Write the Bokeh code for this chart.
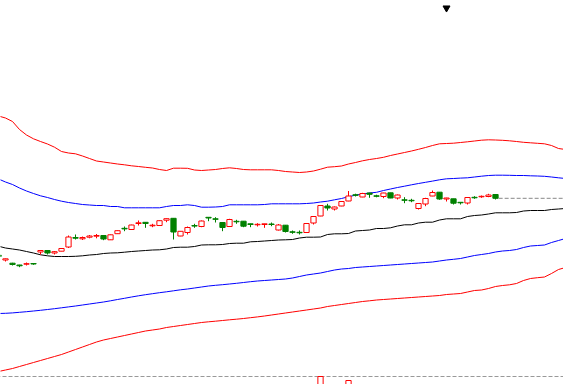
from bokeh.plotting import figure
from bokeh.models import Range1d, ColumnDataSource
from bokeh.embed import file_html
from bokeh.resources import INLINE

# ---- candle data (price units) ----
opens = [14.55, 14.05, 13.73, 13.55, 13.63, 13.70, 14.85, 15.00, 14.75, 14.93,
         15.35, 16.30, 16.17, 16.33, 16.43, 16.50, 16.07, 16.68, 17.22, 17.10,
         17.70, 17.82, 17.47, 17.50, 18.03, 18.22, 16.45, 16.80, 17.50, 17.40,
         18.32, 18.17, 17.80, 17.40, 17.92, 17.93, 17.67, 17.57, 17.60, 17.65,
         17.05, 17.53, 16.87, 16.82, 16.80, 17.75, 18.45, 19.45, 19.15, 19.45,
         19.95, 20.57, 20.35, 20.75, 20.47, 20.40, 20.77, 20.25, 20.07, 20.02,
         19.20, 19.65, 20.45, 20.83, 20.15, 20.17, 19.82, 19.75, 20.32, 20.37,
         20.40, 20.60]
closes = [14.40, 14.17, 13.60, 13.47, 13.68, 13.65, 15.00, 14.75, 14.88, 15.20,
          16.35, 16.23, 16.30, 16.45, 16.50, 16.15, 16.57, 16.98, 17.16, 17.55,
          17.77, 17.70, 17.53, 17.98, 18.18, 16.85, 16.92, 17.30, 17.44, 17.95,
          18.25, 18.12, 17.30, 18.10, 17.87, 17.43, 17.60, 17.62, 17.67, 17.60,
          17.55, 16.90, 16.82, 16.77, 17.70, 18.40, 19.50, 19.25, 19.35, 19.90,
          20.45, 20.52, 20.70, 20.62, 20.42, 20.75, 20.25, 20.55, 20.02, 19.97,
          19.70, 20.20, 20.80, 20.15, 20.25, 19.73, 19.77, 20.30, 20.27, 20.42,
          20.55, 20.22]
highs = [14.60, 14.20, 13.77, 13.57, 13.80, 13.73, 15.00, 15.00, 14.95, 15.23,
         16.50, 16.60, 16.40, 16.55, 16.65, 16.53, 16.60, 17.00, 17.40, 17.58,
         18.00, 17.83, 17.67, 18.00, 18.20, 18.23, 16.93, 17.40, 17.67, 18.00,
         18.33, 18.33, 17.80, 18.17, 18.07, 17.93, 17.67, 17.73, 17.67, 17.80,
         17.65, 17.55, 17.00, 17.00, 17.73, 18.43, 19.50, 19.67, 19.40, 19.90,
         20.95, 20.68, 20.77, 20.77, 20.58, 20.77, 20.77, 20.60, 20.33, 20.17,
         19.73, 20.27, 21.00, 20.83, 20.27, 20.17, 19.83, 20.33, 20.43, 20.50,
         20.67, 20.60]
lows = [14.35, 13.90, 13.50, 13.33, 13.50, 13.57, 14.60, 14.60, 14.60, 14.93,
        15.25, 16.10, 16.05, 16.22, 16.22, 16.03, 16.05, 16.65, 16.93, 17.07,
        17.50, 17.27, 17.33, 17.47, 17.83, 16.10, 16.43, 16.60, 17.27, 17.33,
        17.93, 17.80, 16.93, 17.35, 17.67, 17.33, 17.33, 17.40, 17.27, 17.43,
        17.00, 16.80, 16.67, 16.60, 16.77, 17.60, 18.43, 19.00, 19.00, 19.43,
        19.93, 20.40, 20.33, 20.27, 20.32, 20.23, 20.23, 20.10, 19.73, 19.83,
        19.10, 19.43, 20.43, 20.07, 19.90, 19.60, 19.60, 19.60, 20.17, 20.27,
        20.33, 20.10]

# ---- band lines (extend 10 periods past the last candle) ----
band_mid = [15.43, 15.25, 15.15, 15.05, 14.90, 14.75, 14.57, 14.47, 14.40, 14.40,
            14.40, 14.42, 14.47, 14.55, 14.60, 14.70, 14.75, 14.77, 14.83, 14.90,
            14.95, 15.00, 15.05, 15.07, 15.15, 15.30, 15.33, 15.33, 15.40, 15.55,
            15.57, 15.57, 15.60, 15.70, 15.73, 15.73, 15.87, 15.90, 15.95, 16.00,
            16.05, 16.07, 16.10, 16.25, 16.33, 16.33, 16.35, 16.60, 16.67, 16.67,
            16.70, 16.95, 17.00, 17.05, 17.20, 17.20, 17.27, 17.45, 17.57, 17.57,
            17.75, 17.83, 17.83, 18.05, 18.17, 18.17, 18.17, 18.40, 18.50, 18.55,
            18.65, 18.77, 18.77, 18.77, 18.80, 18.95, 19.00, 19.00, 19.00, 19.10,
            19.15, 19.20]
band_up1 = [22.15, 21.85, 21.60, 21.25, 20.95, 20.70, 20.47, 20.30, 20.10, 19.93,
            19.80, 19.70, 19.60, 19.55, 19.50, 19.50, 19.40, 19.40, 19.27, 19.27,
            19.27, 19.27, 19.27, 19.27, 19.40, 19.50, 19.50, 19.57, 19.50, 19.33,
            19.33, 19.35, 19.40, 19.57, 19.57, 19.57, 19.57, 19.57, 19.60, 19.67,
            19.67, 19.67, 19.67, 19.67, 19.70, 19.75, 19.85, 19.93, 20.07, 20.20,
            20.38, 20.53, 20.65, 20.75, 20.82, 21.00, 21.15, 21.30, 21.43, 21.57,
            21.70, 21.82, 21.94, 22.07, 22.17, 22.20, 22.24, 22.27, 22.35, 22.43,
            22.50, 22.53, 22.53, 22.52, 22.50, 22.50, 22.47, 22.45, 22.42, 22.35,
            22.27, 22.20]
band_up2 = [28.45, 28.25, 27.90, 27.10, 26.55, 26.17, 25.90, 25.65, 25.33, 24.90,
            24.75, 24.67, 24.45, 24.20, 23.95, 23.85, 23.75, 23.65, 23.57, 23.47,
            23.40, 23.32, 23.25, 23.10, 23.00, 23.23, 23.23, 23.22, 23.05, 23.00,
            23.05, 23.10, 23.20, 23.27, 23.20, 23.10, 23.07, 23.07, 23.07, 23.07,
            23.00, 22.90, 22.85, 22.80, 22.85, 22.95, 23.13, 23.33, 23.38, 23.45,
            23.65, 23.80, 23.97, 24.10, 24.20, 24.32, 24.50, 24.65, 24.80, 24.95,
            25.12, 25.30, 25.50, 25.67, 25.70, 25.73, 25.80, 25.87, 25.95, 26.03,
            26.07, 26.05, 26.02, 25.97, 25.90, 25.82, 25.77, 25.72, 25.67, 25.50,
            25.20, 25.10]
band_dn1 = [8.70, 8.72, 8.76, 8.82, 8.88, 8.95, 9.02, 9.10, 9.18, 9.27,
            9.36, 9.45, 9.55, 9.65, 9.75, 9.85, 9.97, 10.10, 10.22, 10.35,
            10.47, 10.58, 10.68, 10.78, 10.87, 10.97, 11.07, 11.15, 11.25, 11.35,
            11.45, 11.52, 11.58, 11.65, 11.72, 11.80, 11.88, 11.95, 12.00, 12.05,
            12.10, 12.15, 12.25, 12.40, 12.55, 12.65, 12.75, 12.90, 13.05, 13.15,
            13.20, 13.30, 13.35, 13.40, 13.45, 13.50, 13.55, 13.60, 13.65, 13.70,
            13.75, 13.80, 13.85, 13.95, 14.05, 14.12, 14.20, 14.35, 14.50, 14.60,
            14.70, 14.85, 14.95, 15.00, 15.10, 15.30, 15.45, 15.50, 15.55, 15.80,
            16.00, 16.20]
band_dn2 = [2.90, 3.05, 3.20, 3.40, 3.60, 3.80, 4.00, 4.20, 4.40, 4.60,
            4.85, 5.10, 5.35, 5.60, 5.85, 6.05, 6.20, 6.35, 6.50, 6.65,
            6.80, 6.95, 7.05, 7.15, 7.30, 7.40, 7.50, 7.60, 7.70, 7.80,
            7.87, 7.93, 8.00, 8.07, 8.13, 8.20, 8.28, 8.36, 8.45, 8.55,
            8.65, 8.75, 8.85, 8.95, 9.05, 9.15, 9.25, 9.40, 9.50, 9.60,
            9.70, 9.80, 9.90, 9.97, 10.05, 10.10, 10.15, 10.20, 10.25, 10.30,
            10.35, 10.40, 10.45, 10.50, 10.60, 10.65, 10.70, 10.85, 11.00, 11.05,
            11.20, 11.40, 11.50, 11.57, 11.70, 12.00, 12.20, 12.28, 12.35, 12.70,
            13.10, 13.30]

# lower panel (only the two bars that reach into view)
lower_idx = [46, 50]
lower_top = [2.40, 2.00]
lower_ref_level = 2.40   # dashed reference line of the lower panel
marker_idx = 64          # black marker at the top
marker_level = 39.25

RED = "#ff0000"
GREEN = "#008000"
BLUE = "#0000ff"

n = len(opens)
idx = list(range(n))
band_x = list(range(len(band_mid)))

up = [c >= o for o, c in zip(opens, closes)]
dn = [not u for u in up]
body_top = [max(o, c) for o, c in zip(opens, closes)]
body_bot = [min(o, c) for o, c in zip(opens, closes)]


def pick(seq, flags):
    return [v for v, f in zip(seq, flags) if f]


src_up = ColumnDataSource(dict(x=pick(idx, up), top=pick(body_top, up),
                               bottom=pick(body_bot, up),
                               h=pick(highs, up), l=pick(lows, up)))
src_dn = ColumnDataSource(dict(x=pick(idx, dn), top=pick(body_top, dn),
                               bottom=pick(body_bot, dn),
                               h=pick(highs, dn), l=pick(lows, dn)))

xs = 2 / 7
p = figure(width=563, height=384, output_backend="svg", toolbar_location=None,
           x_range=Range1d(xs, xs + 563 / 7), y_range=Range1d(1.6, 40.0),
           min_border=0, x_axis_location=None, y_axis_location=None,
           outline_line_color=None, background_fill_color="white",
           border_fill_color="white")
p.grid.visible = False

# bands
p.line(band_x, band_up2, line_color=RED, line_width=1)
p.line(band_x, band_dn2, line_color=RED, line_width=1)
p.line(band_x, band_up1, line_color=BLUE, line_width=1)
p.line(band_x, band_dn1, line_color=BLUE, line_width=1)
p.line(band_x, band_mid, line_color="black", line_width=1)

# last price line
last = closes[-1]
p.line([idx[-1] + 0.45, band_x[-1] + 1], [last, last], line_color="#888888",
       line_width=1, line_dash="4 2")

# lower panel reference line and bars
p.line([-2, band_x[-1] + 2], [lower_ref_level, lower_ref_level], line_color="#999999",
       line_width=1, line_dash="4 2")
p.vbar(x=lower_idx, top=lower_top, bottom=[0, 0], width=0.75,
       fill_color="white", line_color=RED, line_width=1)

# candles
p.segment(x0="x", y0="h", x1="x", y1="l", source=src_up, line_color=RED, line_width=1)
p.segment(x0="x", y0="h", x1="x", y1="l", source=src_dn, line_color=GREEN, line_width=1)
p.vbar(x="x", top="top", bottom="bottom", width=0.75, source=src_up,
       fill_color="white", line_color=RED, line_width=1)
p.vbar(x="x", top="top", bottom="bottom", width=0.75, source=src_dn,
       fill_color=GREEN, line_color=GREEN, line_width=1)

# marker at top
p.scatter([marker_idx], [marker_level], marker="inverted_triangle", size=7,
          fill_color="black", line_color="black")

open("out.html", "w").write(file_html(p, INLINE))
